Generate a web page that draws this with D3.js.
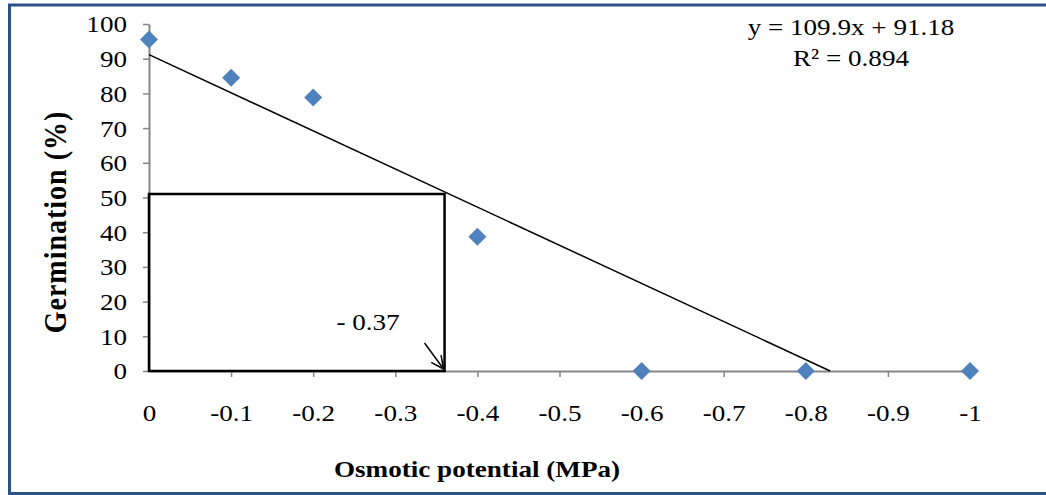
<!DOCTYPE html>
<html><head><meta charset="utf-8">
<script src="https://cdn.jsdelivr.net/npm/d3@7"></script>
<style>body{margin:0;background:#fff}svg{display:block}</style>
</head><body>
<svg id="c" width="1046" height="495"></svg>
<script>
const xValues = [0, -0.1, -0.2, -0.4, -0.6, -0.8, -1];
const germination = [95.5, 84.5, 78.8, 38.7, 0, 0, 0];
const xTicks = [0, -0.1, -0.2, -0.3, -0.4, -0.5, -0.6, -0.7, -0.8, -0.9, -1];
const yTicks = [0, 10, 20, 30, 40, 50, 60, 70, 80, 90, 100];
const slope = 109.9, intercept = 91.18;
const markX = [-0.36], markY = [51];
const eqLines = ["y = 109.9x + 91.18", "R² = 0.894"];

const svg = d3.select("#c");
const font = "'Liberation Serif','Times New Roman',serif";
const SX = 1.13;
const x = d3.scaleLinear().domain([0, -1]).range([149, 970]);
const y = d3.scaleLinear().domain([0, 100]).range([371, 24]);

// frame
svg.append("rect").attr("x", 9.5).attr("y", 5).attr("width", 1046).attr("height", 488.5)
  .attr("fill", "none").attr("stroke", "#2c5283").attr("stroke-width", 3);

// axes
const gx = svg.append("g").attr("transform", "translate(0,371)")
  .call(d3.axisBottom(x).tickValues(xTicks).tickFormat(d => String(d)).tickSize(6).tickSizeOuter(0));
const gy = svg.append("g").attr("transform", "translate(149,0)")
  .call(d3.axisLeft(y).tickValues(yTicks).tickSize(6).tickSizeOuter(0));
[gx, gy].forEach(g => {
  g.select(".domain").attr("stroke", "#868686").attr("stroke-width", 2);
  g.selectAll(".tick line").attr("stroke", "#868686").attr("stroke-width", 1.5);
  g.selectAll("text").attr("fill", "#000").attr("font-family", font).attr("font-size", 24);
});
gx.selectAll("text").attr("dy", 0).attr("y", 0).attr("transform", `translate(0,50) scale(${SX},1)`);
gy.selectAll("text").attr("x", 0).attr("dy", "0.33em").attr("transform", `translate(-22,0) scale(${SX},1)`);
gx.selectAll(".tick").filter(d => d === 0).select("line").remove();

// rectangle
svg.append("path")
  .attr("d", `M${x(0)},${y(0)}H${x(markX[0])}V${y(markY[0])}H${x(0)}Z`)
  .attr("fill", "none").attr("stroke", "#000").attr("stroke-width", 2.5);

// trendline
const xEnd = -intercept / slope;
svg.append("line")
  .attr("x1", x(0)).attr("y1", y(intercept))
  .attr("x2", x(xEnd)).attr("y2", y(0))
  .attr("stroke", "#000").attr("stroke-width", 1.5);

// markers
svg.append("g").selectAll("path").data(xValues.map((v, i) => [v, germination[i]])).join("path")
  .attr("transform", d => `translate(${x(d[0])},${y(d[1])})`)
  .attr("d", "M0,-9L9,0L0,9L-9,0Z")
  .attr("fill", "#4f81bd");

// arrow
const ax2 = x(markX[0]) - 1, ay2 = y(0) - 2;
const ax1 = ax2 - 19, ay1 = ay2 - 26;
svg.append("line").attr("x1", ax1).attr("y1", ay1).attr("x2", ax2).attr("y2", ay2)
  .attr("stroke", "#000").attr("stroke-width", 1.5);
const ang = Math.atan2(ay2 - ay1, ax2 - ax1);
const hl = 14;
[0.45, -0.45].forEach(da => {
  svg.append("line").attr("x1", ax2).attr("y1", ay2)
    .attr("x2", ax2 - hl * Math.cos(ang + da)).attr("y2", ay2 - hl * Math.sin(ang + da))
    .attr("stroke", "#000").attr("stroke-width", 1.5);
});
function label(t, cx, by, size, weight) {
  return svg.append("text").attr("transform", `translate(${cx},${by}) scale(${SX},1)`)
    .attr("text-anchor", "middle").attr("font-family", font).attr("font-size", size)
    .attr("font-weight", weight || "normal").text(t);
}
label("- 0.37", 368, 330, 24);

// equation
eqLines.forEach((t, i) => label(t, 851, 35 + i * 31, 24));

// titles
label("Osmotic potential (MPa)", 477, 477, 24, "bold");
svg.append("text").attr("transform", `translate(55,222) scale(${SX},1) rotate(-90)`).attr("text-anchor", "middle")
  .attr("dy", "0.35em")
  .attr("font-family", font).attr("font-size", 28).attr("font-weight", "bold")
  .attr("letter-spacing", 1).text("Germination (%)");
</script>
</body></html>
